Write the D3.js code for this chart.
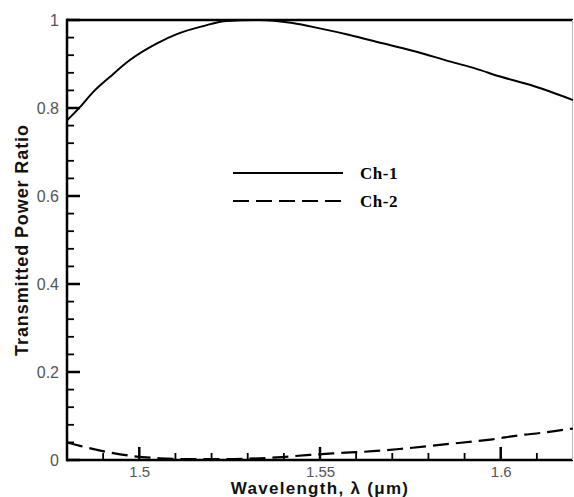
<!DOCTYPE html>
<html>
<head>
<meta charset="utf-8">
<script src="https://cdn.jsdelivr.net/npm/d3@7"></script>
<style>
  body { margin: 0; background: #fff; }
  svg { display: block; }
</style>
</head>
<body>
<div id="chart"></div>
<script>
// Wavelength (um) vs transmitted power ratio
const ch1Wavelength = [1.48, 1.4836, 1.4872, 1.4919, 1.4974, 1.5049, 1.5104, 1.5176, 1.5242, 1.5333, 1.5424, 1.5499, 1.5582, 1.5673, 1.5767, 1.5858, 1.5933, 1.5996, 1.6087, 1.62];
const ch1Power      = [0.772, 0.802, 0.836, 0.871, 0.909, 0.947, 0.968, 0.986, 0.998, 1.0, 0.993, 0.981, 0.966, 0.947, 0.928, 0.906, 0.889, 0.872, 0.851, 0.818];

const ch2Wavelength = [1.48, 1.4836, 1.4919, 1.498, 1.5057, 1.5148, 1.524, 1.538, 1.5463, 1.5535, 1.5646, 1.572, 1.585, 1.5977, 1.605, 1.6116, 1.62];
const ch2Power      = [0.040, 0.032, 0.017, 0.009, 0.004, 0.002, 0.002, 0.006, 0.011, 0.015, 0.020, 0.025, 0.036, 0.047, 0.056, 0.062, 0.072];

const xTicks = [1.5, 1.55, 1.6];
const xTickLabels = ['1.5', '1.55', '1.6'];
const yTicks = [0, 0.2, 0.4, 0.6, 0.8, 1];
const yTickLabels = ['0', '0.2', '0.4', '0.6', '0.8', '1'];

const legendNames = ['Ch-1', 'Ch-2'];

const W = 574, H = 497;
const margin = { left: 67, top: 20, right: 1, bottom: 37 };

const svg = d3.select('#chart').append('svg')
  .attr('width', W)
  .attr('height', H);

const x = d3.scaleLinear().domain([1.48, 1.62]).range([margin.left, W - margin.right]);
const y = d3.scaleLinear().domain([0, 1]).range([H - margin.bottom, margin.top]);

const labelColor = '#555';
const sans = 'Arial, "Liberation Sans", sans-serif';
const tickColor = '#000';

// minor ticks every 0.01 (x) and 0.04 (y)
const xMinor = [1.49, 1.51, 1.52, 1.53, 1.54, 1.56, 1.57, 1.58, 1.59, 1.61];
const yMinor = [0.04, 0.08, 0.12, 0.16, 0.24, 0.28, 0.32, 0.36, 0.44, 0.48, 0.52, 0.56, 0.64, 0.68, 0.72, 0.76, 0.84, 0.88, 0.92, 0.96];

// tick labels via axes
const xAxis = svg.append('g')
  .attr('transform', `translate(0,${y(0)})`)
  .call(d3.axisBottom(x).tickValues(xTicks).tickFormat((d, i) => xTickLabels[i]).tickSize(0).tickPadding(6));
xAxis.select('.domain').remove();
xAxis.selectAll('text').attr('fill', labelColor).attr('font-family', sans).attr('font-size', 15);

const yAxis = svg.append('g')
  .attr('transform', `translate(${x(1.48)},0)`)
  .call(d3.axisLeft(y).tickValues(yTicks).tickFormat((d, i) => yTickLabels[i]).tickSize(0).tickPadding(8));
yAxis.select('.domain').remove();
yAxis.selectAll('text').attr('fill', labelColor).attr('font-family', sans).attr('font-size', 16);

// frame
svg.append('line')
  .attr('x1', x(1.48)).attr('x2', x(1.62)).attr('y1', y(0)).attr('y2', y(0))
  .attr('stroke', '#000').attr('stroke-width', 2.5);
svg.append('line')
  .attr('x1', x(1.48)).attr('x2', x(1.48)).attr('y1', y(0) + 1.25).attr('y2', y(1) - 1.25)
  .attr('stroke', '#000').attr('stroke-width', 2.5);
svg.append('line')
  .attr('x1', x(1.48)).attr('x2', x(1.62)).attr('y1', y(1)).attr('y2', y(1))
  .attr('stroke', '#000').attr('stroke-width', 2.5);
svg.append('line')
  .attr('x1', x(1.62) - 0.5).attr('x2', x(1.62) - 0.5).attr('y1', y(1)).attr('y2', y(0))
  .attr('stroke', '#bbb').attr('stroke-width', 1);

// inward tick marks
const tickG = svg.append('g');
tickG.selectAll('line.xmaj').data(xTicks).join('line')
  .attr('class', 'xmaj')
  .attr('x1', d => x(d)).attr('x2', d => x(d))
  .attr('y1', y(0)).attr('y2', y(0) - 13)
  .attr('stroke', tickColor).attr('stroke-width', 2.5);
tickG.selectAll('line.xmin').data(xMinor).join('line')
  .attr('class', 'xmin')
  .attr('x1', d => x(d)).attr('x2', d => x(d))
  .attr('y1', y(0)).attr('y2', y(0) - 7)
  .attr('stroke', tickColor).attr('stroke-width', 1.8);
tickG.selectAll('line.ymaj').data(yTicks).join('line')
  .attr('class', 'ymaj')
  .attr('x1', x(1.48)).attr('x2', x(1.48) + 13)
  .attr('y1', d => y(d)).attr('y2', d => y(d))
  .attr('stroke', tickColor).attr('stroke-width', 2.5);
tickG.selectAll('line.ymin').data(yMinor).join('line')
  .attr('class', 'ymin')
  .attr('x1', x(1.48)).attr('x2', x(1.48) + 7)
  .attr('y1', d => y(d)).attr('y2', d => y(d))
  .attr('stroke', tickColor).attr('stroke-width', 1.8);

// curves
const line = d3.line().x(d => x(d[0])).y(d => y(d[1])).curve(d3.curveMonotoneX);

svg.append('path')
  .datum(d3.zip(ch1Wavelength, ch1Power))
  .attr('d', line)
  .attr('fill', 'none')
  .attr('stroke', '#000')
  .attr('stroke-width', 2);

svg.append('path')
  .datum(d3.zip(ch2Wavelength, ch2Power))
  .attr('d', line)
  .attr('fill', 'none')
  .attr('stroke', '#000')
  .attr('stroke-width', 2.2)
  .attr('stroke-dasharray', '16,7');

// legend
const legend = svg.append('g');
legendNames.forEach((name, i) => {
  const ly = 173 + i * 28;
  legend.append('line')
    .attr('x1', 233).attr('x2', 343).attr('y1', ly).attr('y2', ly)
    .attr('stroke', '#000').attr('stroke-width', 2.2)
    .attr('stroke-dasharray', i === 1 ? '16,7' : null);
  legend.append('text')
    .attr('x', 360).attr('y', ly + 6)
    .attr('font-family', '"Liberation Serif", "Times New Roman", serif')
    .attr('font-weight', 'bold')
    .attr('font-size', 17)
    .attr('letter-spacing', 0.5)
    .text(name);
});

// axis titles
svg.append('text')
  .attr('x', (x(1.48) + x(1.62)) / 2)
  .attr('y', H - 3)
  .attr('text-anchor', 'middle')
  .attr('font-family', sans)
  .attr('font-weight', 'bold')
  .attr('font-size', 17)
  .attr('letter-spacing', 1.3)
  .attr('fill', '#111')
  .text('Wavelength, λ (μm)');

svg.append('text')
  .attr('transform', `translate(28,${(y(0) + y(1)) / 2}) rotate(-90)`)
  .attr('text-anchor', 'middle')
  .attr('font-family', sans)
  .attr('font-weight', 'bold')
  .attr('font-size', 18)
  .attr('letter-spacing', 0.9)
  .attr('fill', '#111')
  .text('Transmitted Power Ratio');
</script>
</body>
</html>
